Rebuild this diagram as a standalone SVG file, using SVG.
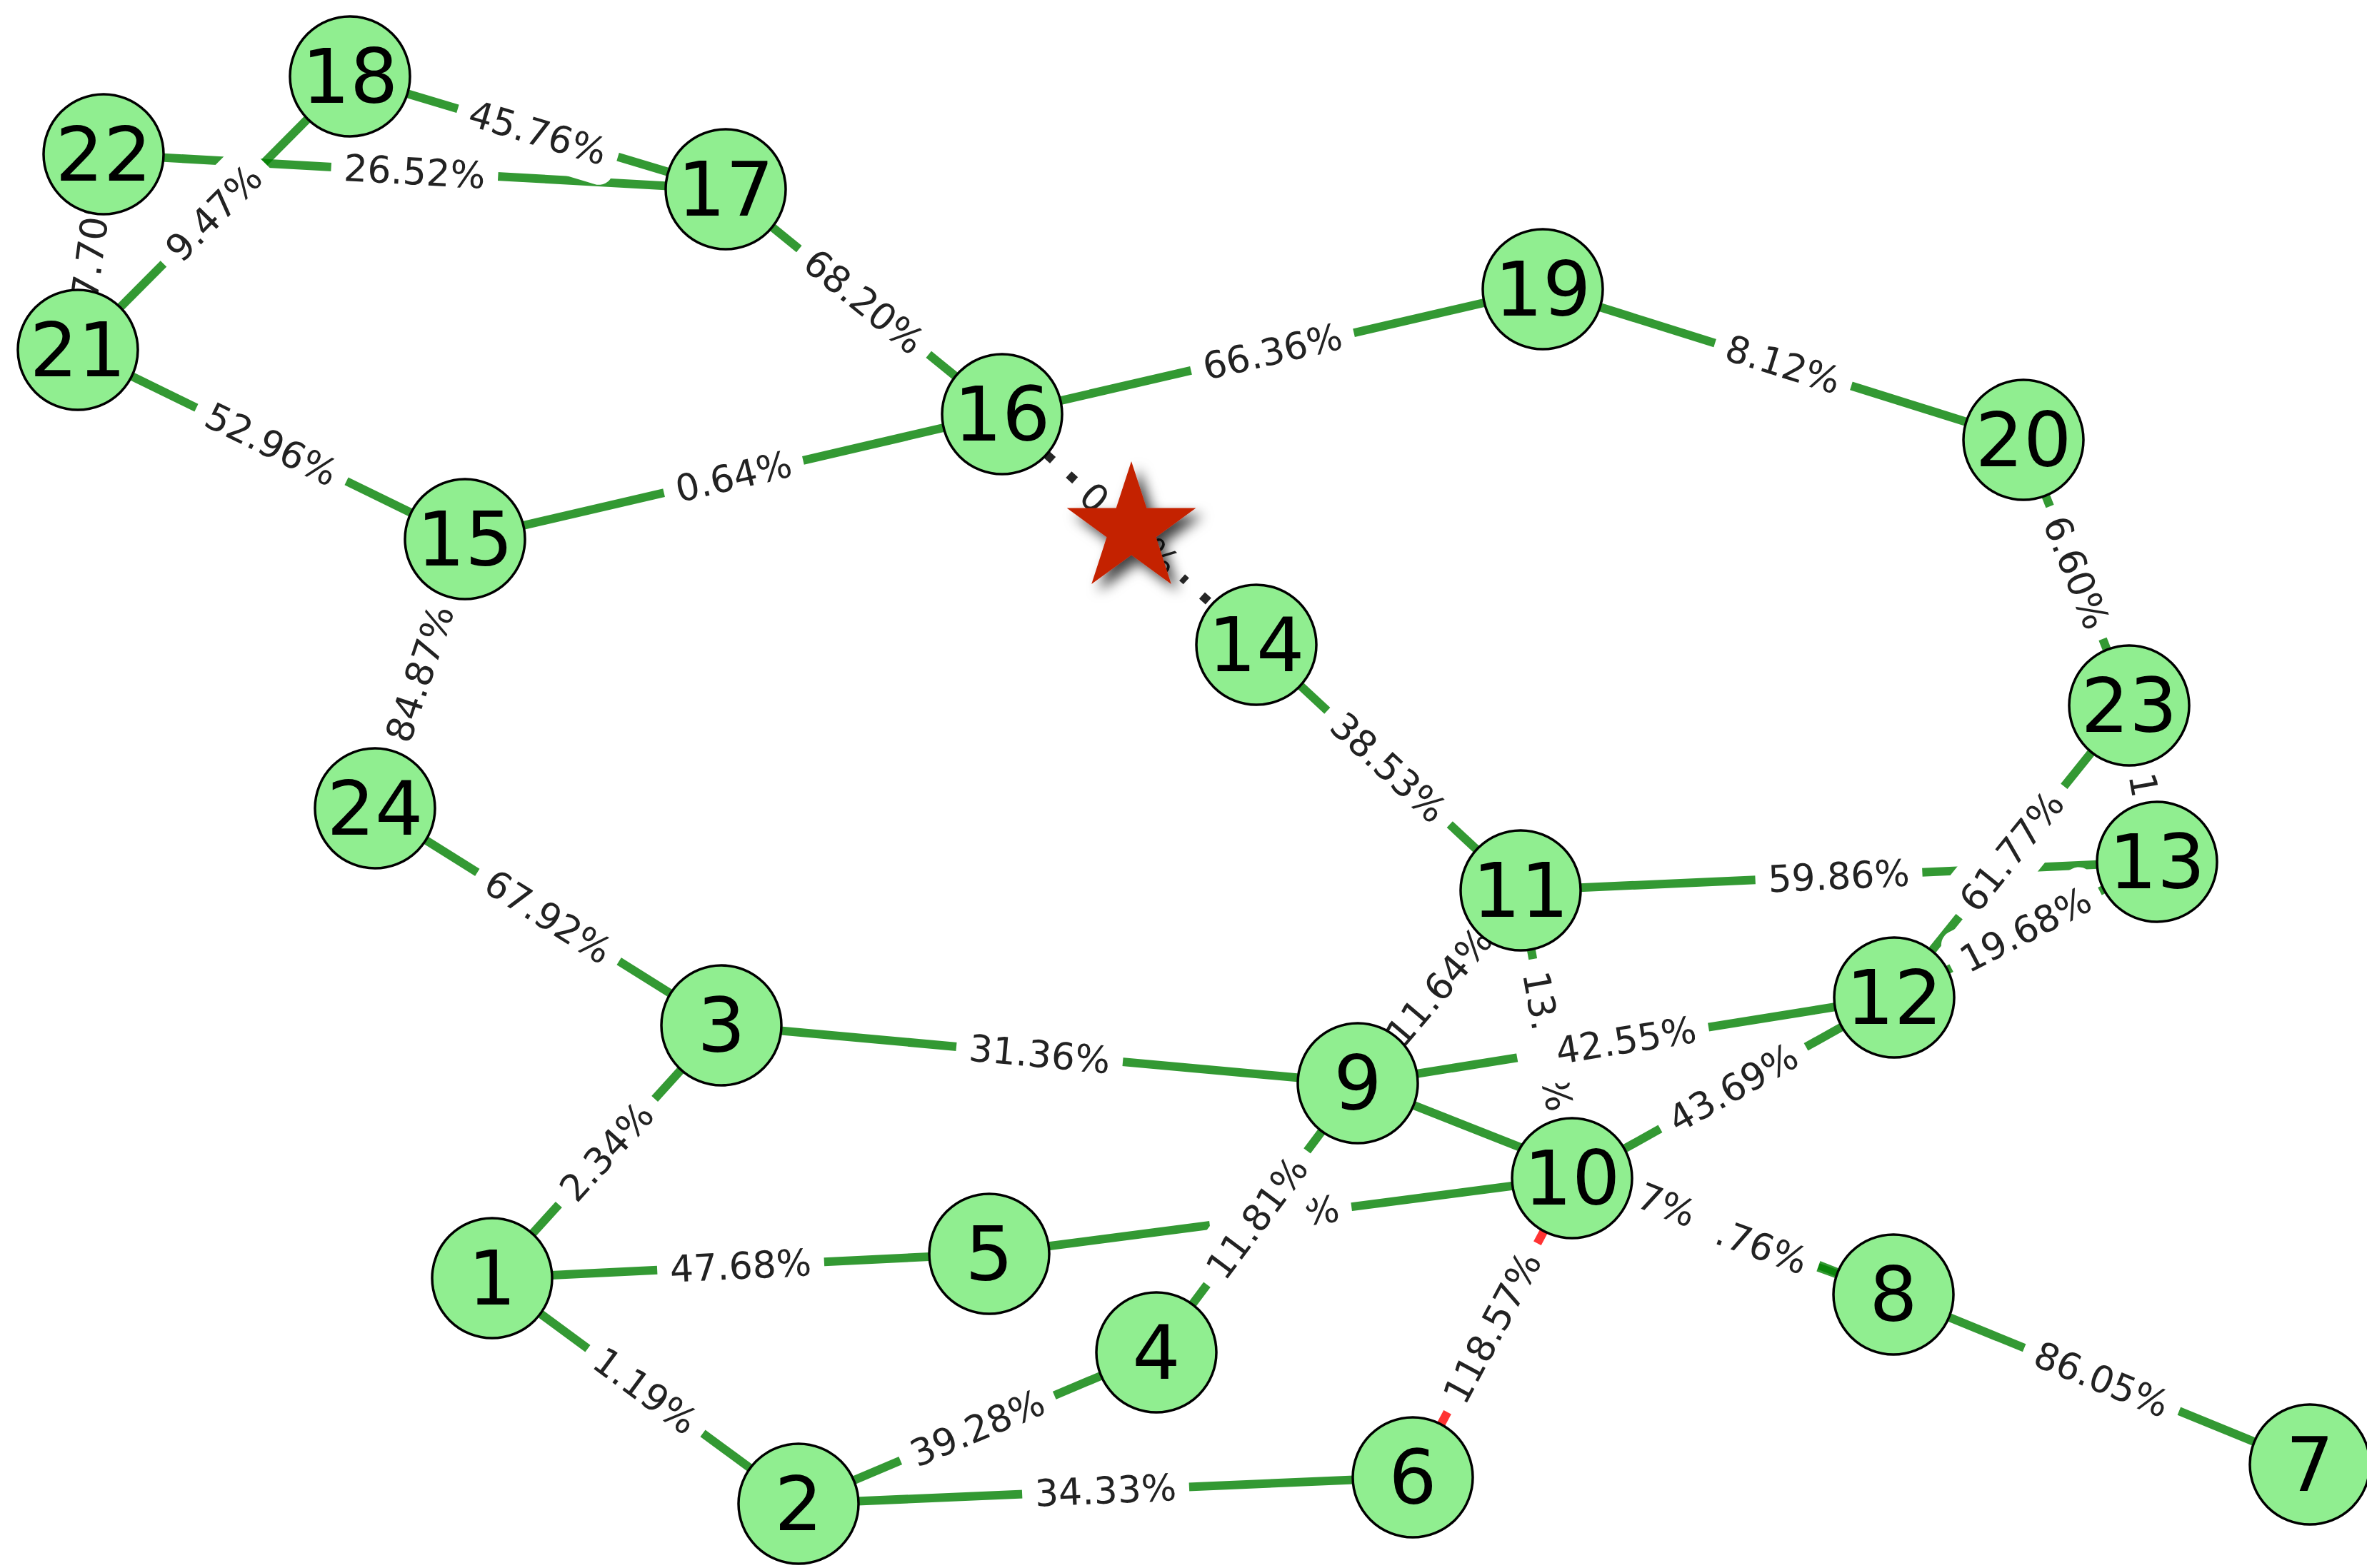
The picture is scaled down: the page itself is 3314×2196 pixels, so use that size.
<svg xmlns="http://www.w3.org/2000/svg" width="3314" height="2196" viewBox="0 0 3314 2196">
<style>
.e{fill:none;stroke:green;stroke-opacity:.8;stroke-width:12}
.er{fill:none;stroke:red;stroke-opacity:.8;stroke-width:12}
.ed{fill:none;stroke:#000;stroke-opacity:.85;stroke-width:12;stroke-dasharray:12 30}
.lb rect{fill:#fff}
.lb text{font-family:"DejaVu Sans",sans-serif;font-size:52px;fill:#222;dominant-baseline:central;text-anchor:middle}
.n circle{fill:#90EE90;stroke:#000;stroke-width:3.5}
.n text{font-family:"DejaVu Sans",sans-serif;font-size:106px;fill:#000;text-anchor:middle;dominant-baseline:central}
</style>
<defs>
<filter id="sh" x="-50%" y="-50%" width="200%" height="200%">
<feDropShadow dx="10" dy="10" stdDeviation="9" flood-color="#000" flood-opacity="0.75"/>
</filter>
</defs>
<rect width="3314" height="2196" fill="#fff"/>
<g id="edges">
<line class="e" x1="145" y1="216" x2="1016" y2="265"/>
<line class="e" x1="490" y1="107" x2="1016" y2="265"/>
<line class="e" x1="490" y1="107" x2="109" y2="490"/>
<line class="e" x1="145" y1="216" x2="109" y2="490"/>
<line class="e" x1="109" y1="490" x2="651" y2="755"/>
<line class="e" x1="1016" y1="265" x2="1403" y2="580"/>
<line class="e" x1="1403" y1="580" x2="651" y2="755"/>
<line class="e" x1="1403" y1="580" x2="2160" y2="405"/>
<line class="ed" x1="1403" y1="580" x2="1759" y2="903"/>
<line class="e" x1="2160" y1="405" x2="2833" y2="616"/>
<line class="e" x1="2833" y1="616" x2="2981" y2="988"/>
<line class="e" x1="2981" y1="988" x2="3020" y2="1207"/>
<line class="e" x1="2981" y1="988" x2="2652" y2="1397"/>
<line class="e" x1="2129" y1="1247" x2="3020" y2="1207"/>
<line class="e" x1="2652" y1="1397" x2="3020" y2="1207"/>
<line class="e" x1="1759" y1="903" x2="2129" y2="1247"/>
<line class="e" x1="651" y1="755" x2="525" y2="1132"/>
<line class="e" x1="525" y1="1132" x2="1010" y2="1436"/>
<line class="e" x1="1010" y1="1436" x2="1901" y2="1517"/>
<line class="e" x1="689" y1="1790" x2="1010" y2="1436"/>
<line class="e" x1="689" y1="1790" x2="1385" y2="1756"/>
<line class="e" x1="689" y1="1790" x2="1118" y2="2106"/>
<line class="e" x1="1118" y1="2106" x2="1619" y2="1894"/>
<line class="e" x1="1118" y1="2106" x2="1978" y2="2069"/>
<line class="e" x1="1619" y1="1894" x2="1901" y2="1517"/>
<line class="e" x1="1385" y1="1756" x2="2201" y2="1650"/>
<line class="e" x1="1901" y1="1517" x2="2129" y2="1247"/>
<line class="e" x1="1901" y1="1517" x2="2652" y2="1397"/>
<line class="e" x1="2129" y1="1247" x2="2201" y2="1650"/>
<line class="e" x1="2201" y1="1650" x2="2652" y2="1397"/>
<line class="er" x1="2201" y1="1650" x2="1978" y2="2069"/>
<line class="e" x1="1901" y1="1517" x2="2651" y2="1813"/>
<line class="e" x1="2201" y1="1650" x2="2651" y2="1813"/>
<line class="e" x1="2651" y1="1813" x2="3234" y2="2051"/>
</g>
<g id="edge-labels" class="lb">
<g transform="translate(580.5 240.5) rotate(3.2)"><rect x="-117" y="-46" width="234" height="92" rx="20"/><text>26.52%</text></g>
<g transform="translate(753 186) rotate(16.7)"><rect x="-117" y="-46" width="234" height="92" rx="20"/><text>45.76%</text></g>
<g transform="translate(299.5 298.5) rotate(-45.2)"><rect x="-100" y="-46" width="200" height="92" rx="20"/><text>9.47%</text></g>
<g transform="translate(127 353) rotate(-82.5)"><rect x="-117" y="-46" width="234" height="92" rx="20"/><text x="-66" style="text-anchor:start">7.70%</text></g>
<g transform="translate(380 622.5) rotate(26.1)"><rect x="-117" y="-46" width="234" height="92" rx="20"/><text>52.96%</text></g>
<g transform="translate(1209.5 422.5) rotate(39.1)"><rect x="-117" y="-46" width="234" height="92" rx="20"/><text>68.20%</text></g>
<g transform="translate(1027 667.5) rotate(-13.1)"><rect x="-100" y="-46" width="200" height="92" rx="20"/><text>0.64%</text></g>
<g transform="translate(1781.5 492.5) rotate(-13)"><rect x="-117" y="-46" width="234" height="92" rx="20"/><text>66.36%</text></g>
<g transform="translate(1581 741.5) rotate(42.2)"><rect x="-100" y="-46" width="200" height="92" rx="20"/><text x="-82.6" style="text-anchor:start">0.</text><text x="82.6" style="text-anchor:end">%</text></g>
<g transform="translate(2496.5 510.5) rotate(17.4)"><rect x="-100" y="-46" width="200" height="92" rx="20"/><text>8.12%</text></g>
<g transform="translate(2907 802) rotate(68.3)"><rect x="-100" y="-46" width="200" height="92" rx="20"/><text>6.60%</text></g>
<g transform="translate(3000.5 1097.5) rotate(79.9)"><rect x="-117" y="-46" width="234" height="92" rx="20"/><text x="2">1</text></g>
<g transform="translate(2816.5 1192.5) rotate(-51.2)"><rect x="-117" y="-46" width="234" height="92" rx="20"/><text>61.77%</text></g>
<g transform="translate(2574.5 1227) rotate(-2.6)"><rect x="-117" y="-46" width="234" height="92" rx="20"/><text>59.86%</text></g>
<g transform="translate(2836 1302) rotate(-27.3)"><rect x="-117" y="-46" width="234" height="92" rx="20"/><text>19.68%</text></g>
<g transform="translate(1944 1075) rotate(42.9)"><rect x="-117" y="-46" width="234" height="92" rx="20"/><text>38.53%</text></g>
<g transform="translate(588 943.5) rotate(-71.5)"><rect x="-117" y="-46" width="234" height="92" rx="20"/><text>84.87%</text></g>
<g transform="translate(767.5 1284) rotate(32.1)"><rect x="-117" y="-46" width="234" height="92" rx="20"/><text>67.92%</text></g>
<g transform="translate(1455.5 1476.5) rotate(5.2)"><rect x="-117" y="-46" width="234" height="92" rx="20"/><text>31.36%</text></g>
<g transform="translate(849.5 1613) rotate(-47.8)"><rect x="-100" y="-46" width="200" height="92" rx="20"/><text>2.34%</text></g>
<g transform="translate(1037 1773) rotate(-2.8)"><rect x="-117" y="-46" width="234" height="92" rx="20"/><text>47.68%</text></g>
<g transform="translate(903.5 1948) rotate(36.4)"><rect x="-100" y="-46" width="200" height="92" rx="20"/><text>1.19%</text></g>
<g transform="translate(1368.5 2000) rotate(-22.9)"><rect x="-117" y="-46" width="234" height="92" rx="20"/><text>39.28%</text></g>
<g transform="translate(1548 2087.5) rotate(-2.5)"><rect x="-117" y="-46" width="234" height="92" rx="20"/><text>34.33%</text></g>
<g transform="translate(1793 1703) rotate(-7.4)"><rect x="-100" y="-46" width="200" height="92" rx="20"/><text x="82.6" style="text-anchor:end">%</text></g>
<g transform="translate(1760 1705.5) rotate(-53.2)"><rect x="-117" y="-46" width="234" height="92" rx="20"/><text>11.81%</text></g>
<g transform="translate(2015 1382) rotate(-49.8)"><rect x="-117" y="-46" width="234" height="92" rx="20"/><text>11.64%</text></g>
<g transform="translate(2166.8 1458.3) rotate(79.9)"><rect x="-117" y="-46" width="234" height="92" rx="20"/><text x="-99" style="text-anchor:start">13.</text><text x="99" style="text-anchor:end">%</text></g>
<g transform="translate(2276.5 1457) rotate(-9.1)"><rect x="-117" y="-46" width="234" height="92" rx="20"/><text>42.55%</text></g>
<g transform="translate(2426.5 1523.5) rotate(-29.3)"><rect x="-117" y="-46" width="234" height="92" rx="20"/><text>43.69%</text></g>
<g transform="translate(2089.5 1859.5) rotate(-62)"><rect x="-134" y="-46" width="268" height="92" rx="20"/><text>118.57%</text></g>
<g transform="translate(2435.4 1734.9) rotate(19.9)"><rect x="-117" y="-46" width="234" height="92" rx="20"/><text x="99" style="text-anchor:end">.76%</text></g>
<g transform="translate(2279.7 1666.5) rotate(21.5)"><rect x="-117" y="-46" width="234" height="92" rx="20"/><text x="99" style="text-anchor:end">7%</text></g>
<g transform="translate(2942.5 1932) rotate(22.2)"><rect x="-117" y="-46" width="234" height="92" rx="20"/><text>86.05%</text></g>
</g>
<g id="node-1" class="n"><circle cx="689" cy="1790" r="84"/><text x="689" y="1790">1</text></g>
<g id="node-2" class="n"><circle cx="1118" cy="2106" r="84"/><text x="1118" y="2106">2</text></g>
<g id="node-3" class="n"><circle cx="1010" cy="1436" r="84"/><text x="1010" y="1436">3</text></g>
<g id="node-4" class="n"><circle cx="1619" cy="1894" r="84"/><text x="1619" y="1894">4</text></g>
<g id="node-5" class="n"><circle cx="1385" cy="1756" r="84"/><text x="1385" y="1756">5</text></g>
<g id="node-6" class="n"><circle cx="1978" cy="2069" r="84"/><text x="1978" y="2069">6</text></g>
<g id="node-7" class="n"><circle cx="3234" cy="2051" r="84"/><text x="3234" y="2051">7</text></g>
<g id="node-8" class="n"><circle cx="2651" cy="1813" r="84"/><text x="2651" y="1813">8</text></g>
<g id="node-9" class="n"><circle cx="1901" cy="1517" r="84"/><text x="1901" y="1517">9</text></g>
<g id="node-10" class="n"><circle cx="2201" cy="1650" r="84"/><text x="2201" y="1650">10</text></g>
<g id="node-11" class="n"><circle cx="2129" cy="1247" r="84"/><text x="2129" y="1247">11</text></g>
<g id="node-12" class="n"><circle cx="2652" cy="1397" r="84"/><text x="2652" y="1397">12</text></g>
<g id="node-13" class="n"><circle cx="3020" cy="1207" r="84"/><text x="3020" y="1207">13</text></g>
<g id="node-14" class="n"><circle cx="1759" cy="903" r="84"/><text x="1759" y="903">14</text></g>
<g id="node-15" class="n"><circle cx="651" cy="755" r="84"/><text x="651" y="755">15</text></g>
<g id="node-16" class="n"><circle cx="1403" cy="580" r="84"/><text x="1403" y="580">16</text></g>
<g id="node-17" class="n"><circle cx="1016" cy="265" r="84"/><text x="1016" y="265">17</text></g>
<g id="node-18" class="n"><circle cx="490" cy="107" r="84"/><text x="490" y="107">18</text></g>
<g id="node-19" class="n"><circle cx="2160" cy="405" r="84"/><text x="2160" y="405">19</text></g>
<g id="node-20" class="n"><circle cx="2833" cy="616" r="84"/><text x="2833" y="616">20</text></g>
<g id="node-21" class="n"><circle cx="109" cy="490" r="84"/><text x="109" y="490">21</text></g>
<g id="node-22" class="n"><circle cx="145" cy="216" r="84"/><text x="145" y="216">22</text></g>
<g id="node-23" class="n"><circle cx="2981" cy="988" r="84"/><text x="2981" y="988">23</text></g>
<g id="node-24" class="n"><circle cx="525" cy="1132" r="84"/><text x="525" y="1132">24</text></g>
<g id="star"><polygon points="1584,646 1605.3,711.6 1674.4,711.6 1618.5,752.2 1639.8,817.9 1584,777.3 1528.2,817.9 1549.5,752.2 1493.6,711.6 1562.7,711.6" fill="#c42206" filter="url(#sh)"/></g>
</svg>
